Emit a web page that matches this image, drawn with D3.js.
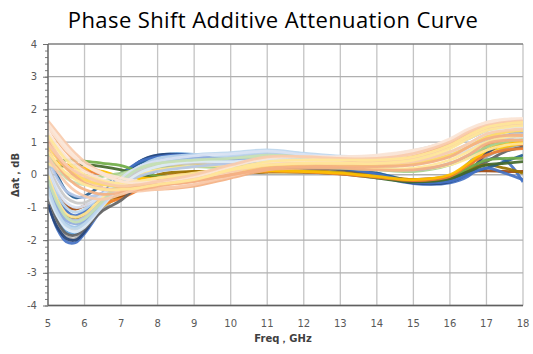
<!DOCTYPE html>
<html lang="en">
<head>
<meta charset="UTF-8">
<title>Phase Shift Additive Attenuation Curve</title>
<script src="https://d3js.org/d3.v7.min.js"></script>
<style>
html, body { margin: 0; padding: 0; background: white; }
#chart svg { display: block; }
.title { font-family: 'Open Sans', sans-serif; font-size: 22px; letter-spacing: 0.4px; fill: #000; }
.tick-label { font-family: 'DejaVu Sans', sans-serif; font-size: 10px; fill: #595959; }
.axis-title { font-family: 'DejaVu Sans', sans-serif; font-size: 10px; font-weight: bold; fill: #404040; }
</style>
</head>
<body>
<div id="chart"></div>
<script>

// --------------------------------------
// Data
// --------------------------------------

const freq = [5, 5.25, 5.5, 5.75, 6, 6.5, 7, 7.5, 8, 9, 10, 11, 12, 13, 14, 15, 16, 16.5, 17, 17.5, 18];
const xTicks = [5, 6, 7, 8, 9, 10, 11, 12, 13, 14, 15, 16, 17, 18];
const yTicks = [-4, -3, -2, -1, 0, 1, 2, 3, 4];

// deep dip near 5.6 GHz (dark series)
const deepColors = ["#4472C4", "#A5A5A5", "#5B9BD5", "#FFC000", "#264478", "#ED7D31", "#9E480E", "#636363", "#997300", "#255E91", "#4472C4"];
const deepCurves = [
  [-0.85,-1.65,-2.05,-2.08,-1.8,-1.0,-0.25,0.35,0.58,0.6,0.35,0.28,0.22,0.15,-0.05,-0.27,-0.25,-0.05,0.45,0.45,-0.22],
  [-0.75,-1.5,-1.9,-1.95,-1.7,-1.05,-0.55,0.05,0.4,0.5,0.3,0.25,0.2,0.15,0.0,-0.2,-0.15,0.15,0.55,0.8,0.95],
  [-0.5,-1.35,-1.75,-1.8,-1.55,-0.8,-0.1,0.4,0.6,0.62,0.38,0.32,0.26,0.2,0.05,-0.18,-0.1,0.35,0.85,1.1,1.25],
  [-0.35,-1.15,-1.55,-1.65,-1.45,-0.95,-0.65,-0.15,0.15,0.35,0.15,0.12,0.12,0.08,-0.02,-0.15,-0.05,0.3,0.7,0.85,0.95],
  [-0.9,-1.6,-1.95,-2.0,-1.75,-0.9,-0.15,0.4,0.6,0.58,0.35,0.28,0.22,0.18,-0.02,-0.25,-0.22,0.05,0.65,1.0,1.3],
  [-0.2,-0.9,-1.3,-1.35,-1.25,-0.9,-0.72,-0.45,-0.15,0.1,0.05,0.1,0.1,0.05,-0.05,-0.2,-0.1,0.2,0.9,1.0,0.9],
  [0.1,-0.55,-0.95,-1.05,-0.95,-0.75,-0.65,-0.35,-0.1,0.0,0.05,0.1,0.1,0.05,-0.05,-0.15,-0.05,0.1,0.12,0.1,0.1],
  [-0.6,-1.4,-1.8,-1.85,-1.65,-1.1,-0.78,-0.3,0.15,0.45,0.3,0.25,0.2,0.15,0.0,-0.2,-0.15,0.1,0.4,0.7,0.85],
  [0.0,-0.8,-1.25,-1.35,-1.2,-0.8,-0.6,-0.25,0.0,0.1,0.05,0.08,0.08,0.05,-0.05,-0.2,-0.1,0.15,0.3,0.2,0.05],
  [0.65,0.0,-0.5,-0.7,-0.65,-0.3,0.05,0.35,0.5,0.55,0.35,0.3,0.25,0.2,0.05,-0.2,-0.15,0.05,0.2,0.4,0.6],
  [0.3,-0.6,-1.1,-1.25,-1.1,-0.55,0.0,0.4,0.55,0.6,0.35,0.3,0.25,0.2,0.02,-0.23,-0.2,0.0,0.2,0.05,-0.15]
];

// flat start, low band at 8-15 GHz (greens / oranges)
const flatColors = ["#70AD47", "#43682B", "#ED7D31", "#FFC000", "#A9D18E"];
const flatCurves = [
  [0.38,0.42,0.45,0.44,0.42,0.35,0.28,0.1,-0.05,-0.05,0.05,0.12,0.1,0.05,-0.08,-0.2,-0.1,0.2,0.45,0.5,0.5],
  [0.25,0.25,0.28,0.3,0.3,0.25,0.15,0.0,-0.1,-0.08,0.03,0.1,0.08,0.03,-0.1,-0.22,-0.12,0.1,0.3,0.35,0.4],
  [0.45,0.38,0.3,0.22,0.15,0.0,-0.15,-0.2,-0.15,-0.05,0.05,0.1,0.08,0.02,-0.08,-0.18,-0.05,0.3,0.6,0.75,0.8],
  [0.4,0.35,0.3,0.25,0.2,0.1,-0.05,-0.1,-0.1,-0.02,0.05,0.12,0.1,0.05,-0.05,-0.15,0.0,0.35,0.75,0.95,1.0],
  [0.3,0.15,0.0,-0.1,-0.12,-0.05,0.05,0.15,0.2,0.25,0.2,0.25,0.25,0.2,0.15,0.1,0.3,0.55,0.85,1.0,1.1]
];

// medium dip, pastel blues / greys
const midColors = ["#9DC3E6", "#B4C7E7", "#BDD7EE", "#DBDBDB", "#FFE699", "#C5E0B4", "#8FAADC", "#C9C9C9", "#B4C7E7", "#DEEBF7", "#FFE699", "#BDD7EE", "#DAE3F3", "#C5E0B4"];
const midCurves = [
  [-0.3,-1.1,-1.5,-1.6,-1.45,-0.85,-0.2,0.2,0.4,0.5,0.45,0.5,0.45,0.4,0.4,0.5,0.85,1.1,1.35,1.45,1.5],
  [-0.1,-0.9,-1.3,-1.4,-1.3,-0.8,-0.25,0.15,0.35,0.45,0.55,0.65,0.6,0.5,0.5,0.6,0.9,1.15,1.4,1.5,1.55],
  [0.1,-0.6,-1.0,-1.15,-1.05,-0.6,-0.15,0.15,0.3,0.45,0.6,0.7,0.62,0.55,0.55,0.68,1.0,1.25,1.45,1.55,1.6],
  [-0.5,-1.2,-1.6,-1.7,-1.55,-0.9,-0.3,0.1,0.3,0.4,0.4,0.45,0.4,0.35,0.3,0.3,0.55,0.75,1.0,1.1,1.15],
  [0.0,-0.75,-1.2,-1.3,-1.2,-0.7,-0.3,0.0,0.15,0.25,0.3,0.35,0.35,0.3,0.2,0.15,0.3,0.5,0.75,0.9,0.95],
  [0.6,0.2,-0.1,-0.25,-0.3,-0.2,0.0,0.2,0.3,0.4,0.45,0.55,0.5,0.45,0.4,0.45,0.7,0.95,1.2,1.3,1.35],
  [-0.2,-0.95,-1.4,-1.5,-1.4,-0.85,-0.2,0.25,0.45,0.55,0.45,0.45,0.4,0.35,0.25,0.15,0.35,0.6,1.0,1.2,1.3],
  [0.3,-0.3,-0.7,-0.85,-0.85,-0.55,-0.2,0.1,0.25,0.35,0.35,0.4,0.4,0.35,0.3,0.35,0.6,0.85,1.1,1.2,1.25],
  [0.5,-0.1,-0.5,-0.65,-0.7,-0.55,-0.3,-0.05,0.1,0.25,0.35,0.45,0.45,0.4,0.4,0.5,0.85,1.1,1.35,1.45,1.5],
  [-0.6,-1.25,-1.65,-1.75,-1.6,-0.95,-0.35,0.05,0.25,0.4,0.4,0.45,0.45,0.4,0.35,0.4,0.7,0.95,1.25,1.4,1.45],
  [0.35,0.2,0.05,-0.1,-0.2,-0.3,-0.3,-0.2,-0.1,0.05,0.2,0.3,0.3,0.25,0.2,0.2,0.45,0.7,1.0,1.15,1.2],
  [-0.4,-1.15,-1.55,-1.65,-1.5,-0.9,-0.25,0.25,0.5,0.62,0.68,0.76,0.66,0.57,0.58,0.74,1.02,1.28,1.52,1.62,1.66],
  [0.2,-0.45,-0.85,-1.0,-0.95,-0.6,-0.1,0.25,0.42,0.58,0.64,0.72,0.62,0.55,0.56,0.72,1.05,1.3,1.55,1.65,1.68],
  [-0.15,-0.85,-1.3,-1.45,-1.35,-0.8,-0.2,0.2,0.35,0.45,0.5,0.6,0.55,0.5,0.5,0.6,0.9,1.15,1.4,1.5,1.55]
];

// high start at 5 GHz, low at 7-9 GHz (peach / yellow)
const highColors = ["#F8CBAD", "#F4B183", "#FBE5D6", "#F8CBAD", "#FFD966", "#F4B183", "#FBE5D6", "#F8CBAD", "#FFE699", "#F4B183", "#FBE5D6", "#F8CBAD", "#FFE699"];
const highCurves = [
  [1.65,1.3,0.95,0.65,0.4,0.05,-0.2,-0.35,-0.4,-0.3,-0.05,0.2,0.35,0.4,0.45,0.6,1.0,1.3,1.55,1.65,1.7],
  [1.5,1.05,0.7,0.4,0.15,-0.2,-0.4,-0.45,-0.45,-0.35,-0.1,0.15,0.3,0.35,0.4,0.55,0.95,1.25,1.5,1.6,1.65],
  [1.3,0.9,0.55,0.3,0.1,-0.15,-0.3,-0.35,-0.3,-0.2,0.05,0.3,0.4,0.45,0.5,0.65,1.05,1.35,1.55,1.65,1.7],
  [1.1,0.65,0.3,0.05,-0.15,-0.4,-0.5,-0.5,-0.45,-0.3,-0.05,0.2,0.3,0.35,0.4,0.5,0.85,1.15,1.4,1.5,1.55],
  [0.9,0.5,0.2,0.0,-0.15,-0.3,-0.35,-0.3,-0.2,-0.1,0.1,0.25,0.3,0.3,0.3,0.35,0.6,0.85,1.15,1.3,1.35],
  [0.75,0.3,-0.05,-0.3,-0.45,-0.6,-0.55,-0.45,-0.35,-0.2,0.0,0.2,0.25,0.25,0.25,0.3,0.55,0.85,1.1,1.2,1.2],
  [1.45,1.1,0.75,0.5,0.3,0.05,-0.1,-0.2,-0.2,-0.1,0.1,0.35,0.45,0.5,0.55,0.7,1.1,1.4,1.6,1.7,1.72],
  [0.55,0.1,-0.25,-0.5,-0.65,-0.75,-0.6,-0.4,-0.25,-0.1,0.1,0.3,0.35,0.35,0.35,0.4,0.7,0.95,1.25,1.35,1.4],
  [1.2,0.8,0.45,0.2,0.0,-0.2,-0.25,-0.2,-0.1,0.0,0.15,0.3,0.35,0.35,0.35,0.45,0.8,1.1,1.35,1.45,1.5],
  [1.0,0.55,0.2,-0.05,-0.25,-0.45,-0.45,-0.35,-0.3,-0.2,0.0,0.15,0.2,0.2,0.15,0.15,0.35,0.6,0.95,1.05,1.05],
  [1.55,1.2,0.85,0.55,0.3,0.0,-0.2,-0.25,-0.2,-0.05,0.25,0.5,0.55,0.55,0.6,0.75,1.05,1.35,1.6,1.68,1.72],
  [0.95,0.6,0.3,0.1,-0.05,-0.25,-0.35,-0.3,-0.2,0.0,0.3,0.55,0.55,0.5,0.5,0.65,1.0,1.3,1.5,1.6,1.65],
  [0.7,0.35,0.05,-0.15,-0.3,-0.45,-0.45,-0.4,-0.3,-0.15,0.15,0.4,0.45,0.45,0.45,0.55,0.9,1.2,1.45,1.55,1.6]
];

// --------------------------------------
// Size and margin
// --------------------------------------

const totalWidth = 533;
const totalHeight = 354;
const margin = {top: 44, right: 10, bottom: 48.5, left: 48};
const width = totalWidth - margin.left - margin.right;
const height = totalHeight - margin.top - margin.bottom;

const svg = d3.select("#chart")
  .append("svg")
  .attr("width", totalWidth)
  .attr("height", totalHeight);

const x = d3.scaleLinear().domain([5, 18]).range([margin.left, margin.left + width]);
const y = d3.scaleLinear().domain([-4, 4]).range([margin.top + height, margin.top]);

// title
svg.append("text")
  .attr("class", "title")
  .attr("x", 273)
  .attr("y", 27.5)
  .attr("text-anchor", "middle")
  .text("Phase Shift Additive Attenuation Curve");

// --------------------------------------
// Grid
// --------------------------------------

svg.append("g")
  .selectAll("line")
  .data(xTicks)
  .join("line")
  .attr("x1", d => x(d)).attr("x2", d => x(d))
  .attr("y1", y(4)).attr("y2", y(-4))
  .attr("stroke", "#c4c4c4")
  .attr("stroke-width", 1.3);

svg.append("g")
  .selectAll("line")
  .data(yTicks)
  .join("line")
  .attr("x1", x(5)).attr("x2", x(18))
  .attr("y1", d => y(d)).attr("y2", d => y(d))
  .attr("stroke", d => d === 4 ? "#7f7f7f" : "#b0b0b0")
  .attr("stroke-width", 1.3);

// --------------------------------------
// Curves
// --------------------------------------

svg.append("clipPath")
  .attr("id", "plot-clip")
  .append("rect")
  .attr("x", margin.left).attr("y", margin.top)
  .attr("width", width).attr("height", height);

const line = d3.line()
  .x((d, i) => x(freq[i]))
  .y(d => y(d))
  .curve(d3.curveCatmullRom.alpha(0.5));

const allCurves = [];
deepCurves.forEach((c, i) => allCurves.push({values: c, color: deepColors[i]}));
flatCurves.forEach((c, i) => allCurves.push({values: c, color: flatColors[i]}));
midCurves.forEach((c, i) => allCurves.push({values: c, color: midColors[i]}));
highCurves.forEach((c, i) => allCurves.push({values: c, color: highColors[i]}));

svg.append("g")
  .attr("clip-path", "url(#plot-clip)")
  .selectAll("path")
  .data(allCurves)
  .join("path")
  .attr("d", d => line(d.values))
  .attr("fill", "none")
  .attr("stroke", d => d.color)
  .attr("stroke-width", 2.8)
  .attr("stroke-linejoin", "round")
  .attr("opacity", 0.92);

// --------------------------------------
// Axes
// --------------------------------------

const yAxis = svg.append("g").attr("transform", `translate(${margin.left},0)`);
yAxis.call(d3.axisLeft(y).tickValues(d3.range(-4, 4.001, 0.2)).tickSize(3).tickFormat(""))
  .call(g => g.select(".domain").remove())
  .selectAll("line").attr("stroke", "#808080");
yAxis.append("g")
  .call(d3.axisLeft(y).tickValues(yTicks).tickSize(5).tickFormat(""))
  .call(g => g.select(".domain").remove())
  .selectAll("line").attr("stroke", "#707070");

svg.append("line")
  .attr("x1", x(5)).attr("x2", x(5))
  .attr("y1", y(4)).attr("y2", y(-4))
  .attr("stroke", "#606060").attr("stroke-width", 1.3);
svg.append("line")
  .attr("x1", x(5)).attr("x2", x(18))
  .attr("y1", y(-4)).attr("y2", y(-4))
  .attr("stroke", "#606060").attr("stroke-width", 1.3);

svg.append("g")
  .selectAll("text")
  .data(yTicks)
  .join("text")
  .attr("class", "tick-label")
  .attr("x", 37)
  .attr("y", d => y(d) + 3.5)
  .attr("text-anchor", "end")
  .text(d => d);

svg.append("g")
  .selectAll("text")
  .data(xTicks)
  .join("text")
  .attr("class", "tick-label")
  .attr("x", d => x(d))
  .attr("y", 327)
  .attr("text-anchor", "middle")
  .text(d => d);

svg.append("text")
  .attr("class", "axis-title")
  .attr("x", 283)
  .attr("y", 342)
  .attr("text-anchor", "middle")
  .text("Freq，GHz");

svg.append("text")
  .attr("class", "axis-title")
  .attr("transform", "translate(19,175) rotate(-90)")
  .attr("text-anchor", "middle")
  .text("Δat，dB");

</script>
</body>
</html>
